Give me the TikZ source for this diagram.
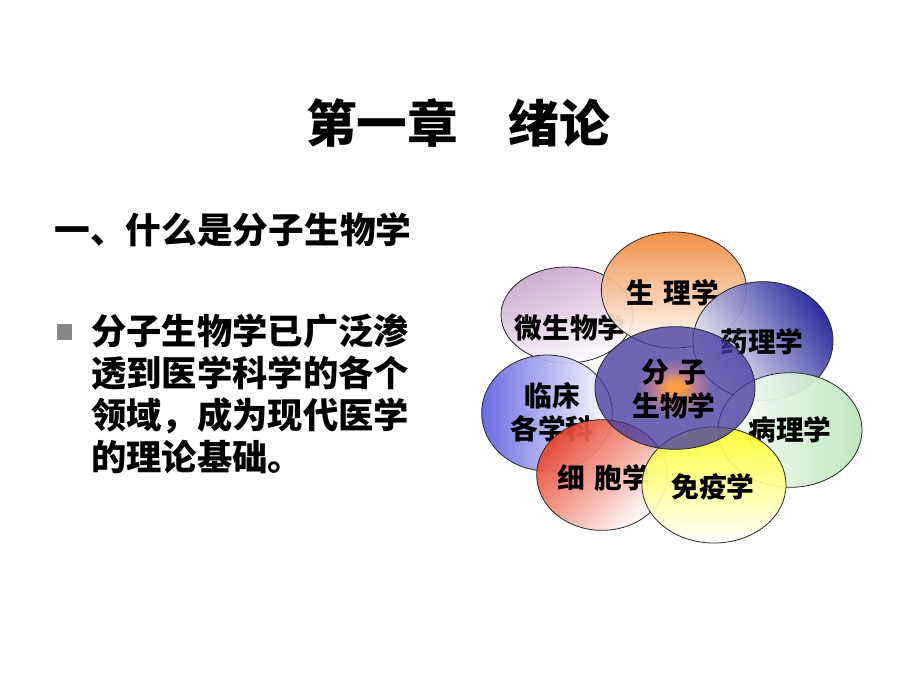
\documentclass[tikz,border=0pt]{standalone}
\usepackage{fontspec}
\newfontfamily\cjk{Noto Sans CJK SC}
\usetikzlibrary{shapes.geometric}
\definecolor{petalline}{RGB}{40,40,40}
\definecolor{cOrange}{RGB}{240,135,55}
\definecolor{cLilac}{RGB}{200,165,205}
\definecolor{cBlue}{RGB}{30,30,150}
\definecolor{cPeri}{RGB}{95,95,225}
\definecolor{cGreen}{RGB}{185,230,185}
\definecolor{cRed}{RGB}{232,65,40}
\definecolor{cYellow}{RGB}{255,255,40}
\definecolor{cPurple}{RGB}{70,60,160}
\definecolor{cMid}{RGB}{155,85,130}
\definecolor{cCore}{RGB}{250,130,20}
\definecolor{bulletgray}{RGB}{135,135,135}
\pgfdeclareradialshading{coreshade}{\pgfpoint{0bp}{0bp}}{color(0bp)=(cCore); color(2.5bp)=(cCore); color(7bp)=(cMid); color(12bp)=(cPurple); color(50bp)=(cPurple)}
\tikzset{
  petal/.style={ellipse, draw=petalline, line width=0.6pt, inner sep=0pt, fill opacity=0.92},
  petaltext/.style={font=\cjk\bfseries\fontsize{20.8pt}{25pt}\selectfont, text=black, align=center, inner sep=0pt},
  bodytext/.style={font=\cjk\bfseries\fontsize{26.5pt}{31.5pt}\selectfont, text=black, align=left, inner sep=0pt, anchor=west},
}
\begin{document}
\begin{tikzpicture}[x=0.75pt,y=-0.75pt]
\useasboundingbox (0,0) rectangle (920,690);
\fill[white] (0,0) rectangle (920,690);

% title
\node[font=\cjk\bfseries\fontsize{38pt}{44pt}\selectfont, inner sep=0pt] (title) at (458,123) {第一章　绪论};
% heading
\node[bodytext, font=\cjk\bfseries\fontsize{26.8pt}{32pt}\selectfont] (heading) at (54,230) {一、什么是分子生物学};
% bullet
\node[fill=bulletgray, minimum size=11.5pt, inner sep=0pt] (bullet) at (64.5,332) {};
\node[bodytext, anchor=north west] (body) at (91,313) {分子生物学已广泛渗\\透到医学科学的各个\\领域，成为现代医学\\的理论基础。};

% petals
\node[petal, top color=cLilac, bottom color=white, shading angle=20, minimum width=99pt, minimum height=72pt] (pMicro) at (567,315) {};
\node[petaltext] (tMicro) at (570,328) {微生物学};

\node[petal, left color=cPeri, right color=white, minimum width=98pt, minimum height=87pt] (pClin) at (547,413) {};
\node[petaltext] (tClin) at (552,412) {临床\\各学科};

\node[petal, top color=cRed, bottom color=white, shading angle=45, minimum width=98pt, minimum height=83pt] (pCell) at (602,475) {};
\node[petaltext] (tCell) at (604,478) {细\,\,胞学};

\node[petal, top color=cOrange, bottom color=white, minimum width=109pt, minimum height=87pt] (pPhys) at (674,290) {};
\node[petaltext] (tPhys) at (673,293) {生\,\,理学};

\node[petal, top color=cBlue, bottom color=white, shading angle=-55, minimum width=105pt, minimum height=89pt] (pPharm) at (763,341) {};
\node[petaltext] (tPharm) at (762,342) {药理学};

\node[petal, left color=white, right color=cGreen, minimum width=108pt, minimum height=86pt] (pPath) at (790,430) {};
\node[petaltext] (tPath) at (790,430) {病理学};

\node[petal, top color=cYellow, bottom color=white, minimum width=108pt, minimum height=87pt] (pImm) at (714,485) {};
\node[petaltext] (tImm) at (713,487) {免疫学};

\node[petal, fill opacity=0.78, shading=coreshade, minimum width=120pt, minimum height=92pt] (pCore) at (675,388) {};
\node[petaltext] (tCore) at (674,389) {分\,\,子\\生物学};
\end{tikzpicture}
\end{document}
